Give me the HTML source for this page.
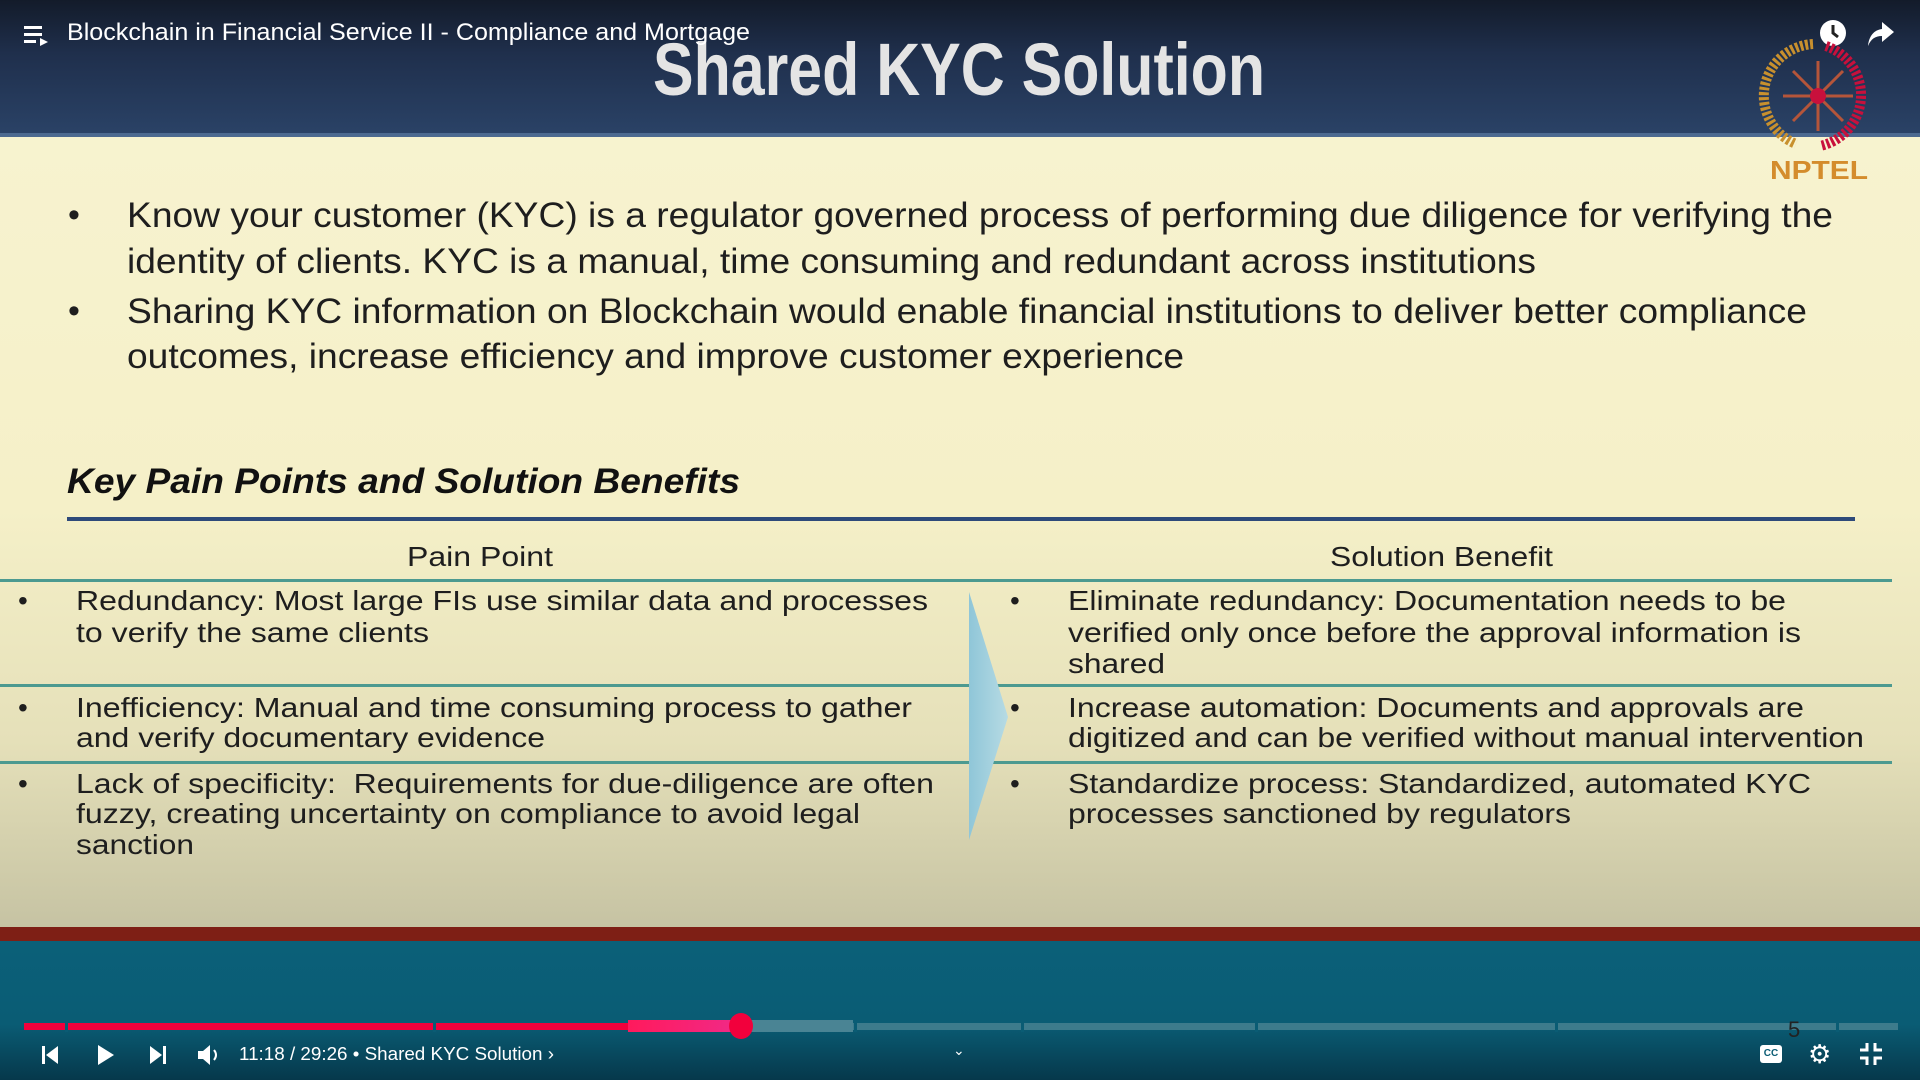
<!DOCTYPE html>
<html><head><meta charset="utf-8"><style>
*{margin:0;padding:0;box-sizing:border-box}
body{width:1920px;height:1080px;overflow:hidden;position:relative;font-family:"Liberation Sans",Arial,sans-serif;background:#0b5f77}
.abs{position:absolute}
.t{position:absolute;white-space:pre;display:inline-block;transform-origin:0 50%;line-height:1}
.slide{left:0;top:0;width:1920px;height:927px;background:linear-gradient(#f8f4d2 0%,#f5f0c8 55%,#e5e0b9 80%,#c6c3a3 100%)}
.hdr{left:0;top:0;width:1920px;height:137px;background:linear-gradient(#131b2a 0%,#1f2f4c 40%,#2a4266 100%);border-bottom:4px solid #4d6a90}
.sep{left:0;width:1892px;height:3px;background:#4c9a90}
.dark{color:#1e1e1e}
.gap{position:absolute;top:1020px;width:3px;height:12px;background:#0a5c74}
</style></head><body>
<div class="abs slide"></div>
<div class="abs hdr"></div>
<div class="t" data-fitw="612" style="left:653px;top:70px;font-size:74px;font-weight:bold;color:#e4e4e4;margin-top:-37px">Shared KYC Solution</div>
<div class="t" data-fitw="683" style="left:67px;top:33px;font-size:24px;color:#fff;margin-top:-12px">Blockchain in Financial Service II - Compliance and Mortgage</div>
<svg class="abs" style="left:24px;top:24px" width="26" height="22"><rect x="0" y="2" width="18" height="3" fill="#fff"/><rect x="0" y="9" width="18" height="3" fill="#fff"/><rect x="0" y="16" width="12" height="3" fill="#fff"/><path d="M16 14 L24 18 L16 22Z" fill="#fff"/></svg>
<svg class="abs" style="left:1818px;top:18px" width="30" height="30"><circle cx="15" cy="15" r="13" fill="#fff"/><path d="M15 7 V15 L20 19" stroke="#222" stroke-width="3" fill="none"/></svg>
<svg class="abs" style="left:1866px;top:20px" width="30" height="28"><path d="M16 2 L28 12 L16 22 V16 C9 16 5 19 2 26 C3 16 8 10 16 9Z" fill="#fff"/></svg>
<svg class="abs" style="left:1758px;top:36px" width="120" height="120"><path d="M55 8 A52 52 0 0 0 38 108" stroke="#c8902e" stroke-width="10" fill="none" stroke-dasharray="3 2"/><path d="M68 10 A52 52 0 0 1 62 110" stroke="#c8103c" stroke-width="10" fill="none" stroke-dasharray="3 2"/><g stroke="#b5553a" stroke-width="3"><line x1="60" y1="25" x2="60" y2="95"/><line x1="25" y1="60" x2="95" y2="60"/><line x1="35" y1="35" x2="85" y2="85"/><line x1="85" y1="35" x2="35" y2="85"/></g><circle cx="60" cy="60" r="8" fill="#c8103c"/></svg>
<div class="t" data-fitw="98" style="left:1770px;top:170px;font-size:26px;font-weight:bold;color:#d48c2c;margin-top:-13px">NPTEL</div>

<div class="t" style="left:68px;top:215px;font-size:34px;color:#1e1e1e;margin-top:-17px">•</div>
<div class="t" data-fitw="1706" style="left:127px;top:215px;font-size:35px;color:#1e1e1e;margin-top:-17px">Know your customer (KYC) is a regulator governed process of performing due diligence for verifying the</div>
<div class="t" data-fitw="1409" style="left:127px;top:261px;font-size:35px;color:#1e1e1e;margin-top:-17px">identity of clients. KYC is a manual, time consuming and redundant across institutions</div>
<div class="t" style="left:68px;top:311px;font-size:34px;color:#1e1e1e;margin-top:-17px">•</div>
<div class="t" data-fitw="1680" style="left:127px;top:311px;font-size:35px;color:#1e1e1e;margin-top:-17px">Sharing KYC information on Blockchain would enable financial institutions to deliver better compliance</div>
<div class="t" data-fitw="1057" style="left:127px;top:356px;font-size:35px;color:#1e1e1e;margin-top:-17px">outcomes, increase efficiency and improve customer experience</div>

<div class="t" data-fitw="673" style="left:67px;top:481px;font-size:35px;font-weight:bold;font-style:italic;color:#111;margin-top:-17px">Key Pain Points and Solution Benefits</div>
<div class="abs" style="left:67px;top:517px;width:1788px;height:4px;background:#2e4a7a"></div>

<div class="t" data-fitw="146" style="left:407px;top:557px;font-size:28px;color:#1e1e1e;margin-top:-14px">Pain Point</div>
<div class="t" data-fitw="223" style="left:1330px;top:557px;font-size:28px;color:#1e1e1e;margin-top:-14px">Solution Benefit</div>
<div class="abs sep" style="top:579px"></div>
<div class="abs sep" style="top:684px"></div>
<div class="abs sep" style="top:761px"></div>
<svg class="abs" style="left:966px;top:592px" width="46" height="250"><defs><linearGradient id="ag" x1="0" x2="1"><stop offset="0" stop-color="#8fc6d8"/><stop offset="1" stop-color="#b7dbe4"/></linearGradient></defs><path d="M3 0 L42 125 L3 248Z" fill="url(#ag)"/></svg>

<div id="rows"></div>

<div class="abs" style="left:0;top:927px;width:1920px;height:14px;background:#7e1f15"></div>
<div class="abs" style="left:0;top:941px;width:1920px;height:139px;background:linear-gradient(#0b6079 0%,#0a5c74 60%,#06384b 100%)"></div>
<div class="abs" style="left:24px;top:1023px;width:1874px;height:7px;background:#3d7b8c"></div>
<div class="abs" style="left:741px;top:1020px;width:112px;height:12px;background:#4a8494"></div>
<div class="abs" style="left:24px;top:1023px;width:604px;height:7px;background:#f2003c"></div>
<div class="abs" style="left:628px;top:1020px;width:113px;height:12px;background:linear-gradient(90deg,#ff1a5c,#f02a88)"></div>
<div class="gap" style="left:65px"></div>
<div class="gap" style="left:433px"></div>
<div class="gap" style="left:854px"></div>
<div class="gap" style="left:1021px"></div>
<div class="gap" style="left:1255px"></div>
<div class="gap" style="left:1555px"></div>
<div class="gap" style="left:1836px"></div>
<div class="abs" style="left:729px;top:1013px;width:24px;height:26px;border-radius:50%;background:#f2003c"></div>
<div class="t" style="left:1788px;top:1030px;font-size:22px;color:#222;margin-top:-11px">5</div>
<svg class="abs" style="left:38px;top:1042px" width="200" height="26"><rect x="4" y="4" width="3" height="18" fill="#fff"/><path d="M20 4 L8 13 L20 22Z" fill="#fff"/><path d="M60 3 L76 13 L60 23Z" fill="#fff"/><path d="M112 4 L124 13 L112 22Z" fill="#fff"/><rect x="125" y="4" width="3" height="18" fill="#fff"/><path d="M160 9 H165 L172 3 V23 L165 17 H160Z" fill="#fff"/><path d="M176 8 Q180 13 176 18" stroke="#fff" stroke-width="2" fill="none"/></svg>
<div class="t" data-fitw="315" style="left:239px;top:1054px;font-size:18px;color:#fff;margin-top:-9px">11:18 / 29:26 • Shared KYC Solution ›</div>
<div class="t" style="left:953px;top:1050px;font-size:14px;color:#fff;margin-top:-7px">⌄</div>
<div class="abs" style="left:1760px;top:1045px;width:22px;height:18px;background:#fff;border-radius:3px;font-size:10px;font-weight:bold;color:#0a5c74;text-align:center;line-height:18px">CC</div>
<div class="t" style="left:1808px;top:1054px;font-size:26px;color:#fff;margin-top:-13px">⚙</div>
<svg class="abs" style="left:1860px;top:1043px" width="22" height="22"><path d="M7 0 V7 H0 M15 0 V7 H22 M7 22 V15 H0 M15 22 V15 H22" stroke="#fff" stroke-width="3" fill="none"/></svg>

<script>
const leftLines=[["Redundancy: Most large FIs use similar data and processes",601,852],["to verify the same clients",633,353],["Inefficiency: Manual and time consuming process to gather",708,836],["and verify documentary evidence",738,469],["Lack of specificity:  Requirements for due-diligence are often",784,858],["fuzzy, creating uncertainty on compliance to avoid legal",814,784],["sanction",845,118]];
const rightLines=[["Eliminate redundancy: Documentation needs to be",601,718],["verified only once before the approval information is",633,733],["shared",664,97],["Increase automation: Documents and approvals are",708,736],["digitized and can be verified without manual intervention",738,796],["Standardize process: Standardized, automated KYC",784,743],["processes sanctioned by regulators",814,503]];
const bulletRows=[601,708,784];
const rows=document.getElementById('rows');
function mk(txt,x,y,w,name){const d=document.createElement('div');d.className='t dark';d.textContent=txt;d.style.left=x+'px';d.style.top=y+'px';d.style.fontSize='28px';d.style.marginTop='-14px';if(w)d.dataset.fitw=w;


rows.appendChild(d);}
leftLines.forEach((l,i)=>mk(l[0],76,l[1],l[2],'pain-point-line-'+(i+1)));
rightLines.forEach((l,i)=>mk(l[0],1068,l[1],l[2],'solution-benefit-line-'+(i+1)));
bulletRows.forEach((y,i)=>{mk('•',18,y,0,'pain-bullet-'+(i+1));mk('•',1010,y,0,'benefit-bullet-'+(i+1));});
document.querySelectorAll('[data-fitw]').forEach(e=>{const w=e.getBoundingClientRect().width;const t=+e.dataset.fitw;if(w>0)e.style.transform='scaleX('+(t/w)+')';});
</script>
</body></html>
